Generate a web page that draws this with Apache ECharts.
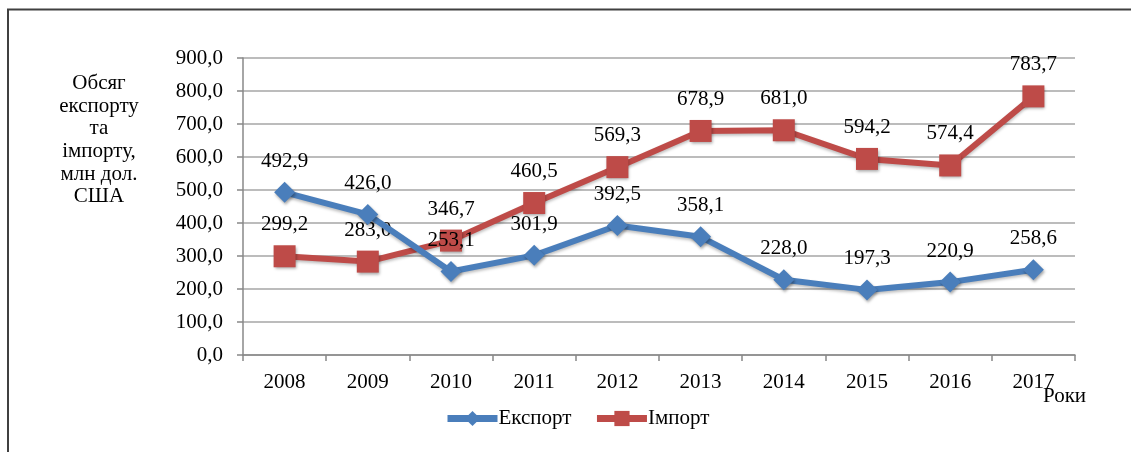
<!DOCTYPE html>
<html>
<head>
<meta charset="utf-8">
<script src="https://cdn.jsdelivr.net/npm/echarts@6/dist/echarts.min.js"></script>
<style>
html,body{margin:0;padding:0;background:#fff;}
#chart{width:1131px;height:452px;}
</style>
</head>
<body>
<div id="chart"></div>
<script>
const years = ['2008','2009','2010','2011','2012','2013','2014','2015','2016','2017'];
const exportValues = [492.9, 426.0, 253.1, 301.9, 392.5, 358.1, 228.0, 197.3, 220.9, 258.6];
const importValues = [299.2, 283.0, 346.7, 460.5, 569.3, 678.9, 681.0, 594.2, 574.4, 783.7];
const seriesNames = ['Експорт', 'Імпорт'];
const yTitle = 'Обсяг\nекспорту\nта\nімпорту,\nмлн дол.\nСША';
const xTitle = 'Роки';

const FONT = '"Liberation Serif", "DejaVu Serif", serif';
const FS = 21;
const fmt = v => Number(v).toFixed(1).replace('.', ',');

const chart = echarts.init(document.getElementById('chart'));
const labelCfg = {
  show: true, position: 'top', distance: 10,
  fontFamily: FONT, fontSize: FS, color: '#000',
  formatter: p => fmt(p.value)
};
chart.setOption({
  animation: false,
  backgroundColor: '#fff',
  grid: {left: 243, right: 56, top: 58, bottom: 97},
  xAxis: {
    type: 'category', data: years, boundaryGap: true,
    axisLine: {lineStyle: {color: '#888', width: 1.5}},
    axisTick: {show: true, length: 6, lineStyle: {color: '#888', width: 1.5}},
    axisLabel: {fontFamily: FONT, fontSize: FS, color: '#000', margin: 17}
  },
  yAxis: {
    type: 'value', min: 0, max: 900, interval: 100,
    axisLine: {show: true, lineStyle: {color: '#888', width: 1.5}},
    axisTick: {show: true, length: 6, lineStyle: {color: '#888', width: 1.5}},
    splitLine: {lineStyle: {color: '#a6a6a6', width: 1.5}},
    axisLabel: {fontFamily: FONT, fontSize: FS, color: '#000', margin: 20, formatter: v => fmt(v)}
  },
  legend: {
    left: 439, top: 403,
    itemWidth: 50, itemHeight: 19, itemGap: 22,
    lineStyle: {width: 7},
    textStyle: {fontFamily: FONT, fontSize: FS, color: '#000', padding: [0,0,0,-4]},
    data: seriesNames
  },
  graphic: [
    {type: 'rect', shape: {x: 8, y: 9.5, width: 1200, height: 500},
     style: {fill: 'none', stroke: '#404040', lineWidth: 2}, silent: true, z: -1},
    {type: 'text', x: 99, y: 72, style: {text: yTitle, fontFamily: FONT, fontSize: FS,
      fill: '#000', align: 'center', verticalAlign: 'top', lineHeight: 22.7}},
    {type: 'text', x: 1043, y: 386, style: {text: xTitle, fontFamily: FONT, fontSize: FS, fill: '#000', verticalAlign: 'top'}}
  ],
  series: [
    {
      name: seriesNames[0], type: 'line', data: exportValues,
      symbol: 'diamond', symbolSize: 21,
      lineStyle: {color: '#4a7ebb', width: 6, shadowColor: 'rgba(0,0,0,0.25)', shadowBlur: 3, shadowOffsetY: 2},
      itemStyle: {color: '#4a7ebb', shadowColor: 'rgba(0,0,0,0.35)', shadowBlur: 3, shadowOffsetX: 1, shadowOffsetY: 2},
      label: labelCfg, z: 3
    },
    {
      name: seriesNames[1], type: 'line', data: importValues,
      symbol: 'rect', symbolSize: 22,
      lineStyle: {color: '#be4b48', width: 6, shadowColor: 'rgba(0,0,0,0.25)', shadowBlur: 3, shadowOffsetY: 2},
      itemStyle: {color: '#be4b48', shadowColor: 'rgba(0,0,0,0.35)', shadowBlur: 3, shadowOffsetX: 1, shadowOffsetY: 2},
      label: labelCfg, z: 2
    }
  ]
});
</script>
</body>
</html>
